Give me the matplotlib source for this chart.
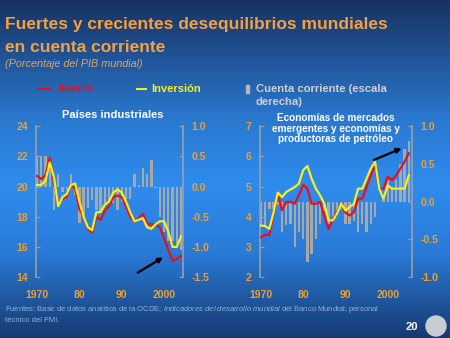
import matplotlib
matplotlib.use("Agg")
import matplotlib.pyplot as plt
import numpy as np
from matplotlib.colors import LinearSegmentedColormap
from matplotlib.patches import Ellipse

# --- data ---
years_ind = list(range(1970, 2005))
ahorro_ind = [20.7, 20.5, 20.75, 21.9, 20.3, 18.9, 19.2, 19.3, 20.1, 19.9,
              18.5, 18.0, 17.2, 16.96, 18.0, 17.8, 18.4, 18.7, 19.3, 19.4,
              19.3, 18.7, 18.0, 17.7, 17.9, 18.2, 17.5, 17.5, 17.5, 17.3,
              16.6, 15.8, 15.1, 15.2, 15.4]
inversion_ind = [20.1, 20.1, 20.4, 21.6, 20.6, 18.7, 19.3, 19.5, 20.1, 20.2,
                 19.0, 18.0, 17.3, 17.1, 18.3, 18.3, 18.8, 19.0, 19.6, 19.8,
                 19.6, 19.0, 18.3, 17.7, 17.8, 17.9, 17.3, 17.2, 17.5, 17.7,
                 17.7, 17.0, 16.0, 16.0, 16.7]
cuenta_ind = [0.51, 0.51, 0.51, 0.46, -0.39, 0.2, -0.09, -0.06, 0.2, -0.14,
              -0.61, -0.5, -0.36, -0.23, -0.39, -0.42, -0.28, -0.23, -0.28, -0.39,
              -0.25, -0.2, -0.2, 0.2, 0.02, 0.3, 0.2, 0.44, -0.02, -0.5,
              -0.75, -0.9, -0.9, -0.95, -1.05]

years_eme = list(range(1970, 2006))
ahorro_eme = [3.32, 3.4, 3.4, 4.1, 4.76, 4.21, 4.49, 4.49, 4.43, 4.71,
              5.06, 4.93, 4.43, 4.43, 4.49, 4.04, 3.58, 3.93, 4.15, 4.43,
              4.13, 4.04, 4.15, 4.6, 4.6, 4.98, 5.37, 5.7, 4.93, 4.93,
              5.32, 5.21, 5.37, 5.59, 5.82, 6.1]
inversion_eme = [3.71, 3.69, 3.6, 4.15, 4.8, 4.65, 4.82, 4.9, 4.98, 5.1,
                 5.54, 5.68, 5.26, 4.93, 4.71, 4.43, 3.88, 3.88, 4.1, 4.43,
                 4.21, 4.32, 4.43, 4.93, 4.93, 5.26, 5.59, 5.82, 4.93, 4.6,
                 5.04, 4.93, 4.93, 4.93, 4.93, 5.37]
cuenta_eme = [-0.33, -0.33, -0.1, -0.1, -0.05, -0.4, -0.31, -0.3, -0.6, -0.4,
              -0.5, -0.8, -0.7, -0.5, -0.3, -0.12, -0.3, -0.2, -0.15, -0.1,
              -0.3, -0.3, -0.25, -0.4, -0.3, -0.4, -0.3, -0.2, 0.0, 0.05,
              0.28, 0.2, 0.28, 0.5, 0.7, 0.8]

xtick_pos = [1970, 1980, 1990, 2000]
xtick_labels = ["1970", "80", "90", "2000"]

ORANGE = "#eca030"
RED = "#e8101a"
YELLOW = "#f4f020"
BARC = "#a8a8a8"
FONT = "Liberation Sans"
W, H = 450, 338

plt.rcParams["font.family"] = [FONT, "DejaVu Sans"]
plt.rcParams["mathtext.fontset"] = "custom"
plt.rcParams["mathtext.rm"] = FONT
plt.rcParams["mathtext.it"] = FONT + ":italic"

fig = plt.figure(figsize=(4.5, 3.38), dpi=100)

# background gradient
bg = fig.add_axes([0, 0, 1, 1])
bg.set_axis_off()
cmap = LinearSegmentedColormap.from_list(
    "bg", [(0.0, "#173262"), (0.35, "#2a78cf"), (0.55, "#2e8cee"),
           (0.75, "#2a7ad6"), (1.0, "#163a72")])
grad = np.linspace(0, 1, 256).reshape(-1, 1)
bg.imshow(grad, aspect="auto", cmap=cmap, extent=[0, 1, 0, 1], origin="upper")
bg.set_xlim(0, 1)
bg.set_ylim(0, 1)


def panel(rect, years, ahorro, inversion, cuenta, ylim, yticks, rlim, rticks, xlim):
    ax = fig.add_axes(rect)
    ax2 = ax.twinx()
    ax2.bar(years, cuenta, width=0.55, color=BARC, zorder=1)
    ax2.set_ylim(*rlim)
    ax.set_zorder(ax2.get_zorder() + 1)
    ax.patch.set_visible(False)
    ax.plot(years, ahorro, color=RED, lw=1.6, zorder=3)
    ax.plot(years, inversion, color=YELLOW, lw=1.6, zorder=4)
    ax.set_ylim(*ylim)
    ax.set_xlim(*xlim)
    for a in (ax, ax2):
        for s in ("top", "bottom"):
            a.spines[s].set_visible(False)
        a.spines["left"].set_color("#9aa0a8")
        a.spines["right"].set_color("#9aa0a8")
        a.spines["left"].set_linewidth(1.2)
        a.spines["right"].set_linewidth(1.2)
    ax.spines["right"].set_visible(False)
    ax2.spines["left"].set_visible(False)
    ax.set_yticks(yticks)
    ax.set_yticklabels([f"{v:g}" for v in yticks])
    ax2.set_yticks(rticks)
    ax2.set_yticklabels([f"{v:.1f}" for v in rticks])
    ax.tick_params(axis="y", direction="in", length=3, color="#9aa0a8",
                   labelcolor=ORANGE, labelsize=7.5, pad=6)
    ax2.tick_params(axis="y", direction="in", length=3, color="#9aa0a8",
                    labelcolor=ORANGE, labelsize=7.5, pad=6)
    ax.set_xticks(xtick_pos)
    ax.set_xticklabels(xtick_labels)
    ax.tick_params(axis="x", length=0, labelcolor=ORANGE, labelsize=7.5, pad=9)
    for lab in ax.get_xticklabels() + ax.get_yticklabels() + ax2.get_yticklabels():
        lab.set_fontweight("bold")
    return ax, ax2


axL, axL2 = panel([0.080, 0.180, 0.327, 0.447], years_ind, ahorro_ind, inversion_ind,
                  cuenta_ind, (14, 24), [14, 16, 18, 20, 22, 24],
                  (-1.5, 1.0), [-1.5, -1.0, -0.5, 0.0, 0.5, 1.0], (1969.75, 2004.5))
axR, axR2 = panel([0.577, 0.180, 0.339, 0.447], years_eme, ahorro_eme, inversion_eme,
                  cuenta_eme, (2, 7), [2, 3, 4, 5, 6, 7],
                  (-1.0, 1.0), [-1.0, -0.5, 0.0, 0.5, 1.0], (1969.7, 2005.8))

# arrows
axL.annotate("", xy=(2000.3, 15.4), xytext=(1993.2, 14.2),
             arrowprops=dict(arrowstyle="-|>", color="black", lw=1.6,
                             mutation_scale=7))
axR.annotate("", xy=(2003.9, 6.3), xytext=(1996.1, 5.84),
             arrowprops=dict(arrowstyle="-|>", color="black", lw=1.6,
                             mutation_scale=7))

# panel titles
fig.text(113 / W, 1 - 115 / H, "Países industriales", color="white",
         fontsize=8, fontweight="bold", ha="center", va="center")
fig.text(336 / W, 1 - 128.5 / H,
         "Economías de mercados\nemergentes y economías y\nproductoras de petróleo",
         color="white", fontsize=7.2, fontweight="bold", ha="center", va="center",
         linespacing=1.1)

# title
fig.text(5 / W, 1 - 25 / H, "Fuertes y crecientes desequilibrios mundiales",
         color="#f5a040", fontsize=12.5, fontweight="bold", ha="left", va="center")
fig.text(5 / W, 1 - 47 / H, "en cuenta corriente",
         color="#f5a040", fontsize=12.5, fontweight="bold", ha="left", va="center")
fig.text(5 / W, 1 - 64 / H, "(Porcentaje del PIB mundial)",
         color="#d8a468", fontsize=7.8, style="italic", ha="left", va="center")

# legend
ly = 1 - 89 / H
fig.add_artist(plt.Line2D([38 / W, 51 / W], [ly, ly], color=RED, lw=1.5))
fig.text(57 / W, ly, "Ahorro", color=RED, fontsize=8,
         fontweight="bold", ha="left", va="center")
fig.add_artist(plt.Line2D([137 / W, 146 / W], [ly, ly], color=YELLOW, lw=1.5))
fig.text(151 / W, ly, "Inversión", color=YELLOW, fontsize=8,
         fontweight="bold", ha="left", va="center")
fig.add_artist(plt.Rectangle((246 / W, ly - 0.013), 3 / W, 0.026,
                             color="#b8b8b8"))
fig.text(256 / W, ly, "Cuenta corriente (escala", color="#d0d0d0", fontsize=8.1,
         fontweight="bold", ha="left", va="center")
fig.text(256 / W, 1 - 102 / H, "derecha)", color="#d0d0d0", fontsize=8.1,
         fontweight="bold", ha="left", va="center")

# footer
fig.text(5 / W, 1 - 314 / H,
         "Fuentes: Base de datos analítica de la OCDE; $\\it{Indicadores\\ del\\ desarrollo\\ mundial}$"
         " del Banco Mundial; personal\ntécnico del FMI.",
         color="#8fb0d8", fontsize=5.5, ha="left", va="center", linespacing=1.3)
fig.text(412 / W, 1 - 327 / H, "20", color="white", fontsize=8,
         fontweight="bold", ha="center", va="center")
fig.add_artist(Ellipse((436 / W, 1 - 326 / H), 20 / W, 20 / H, color="#c8ccd4",
                       transform=fig.transFigure))

fig.savefig("out.png", dpi=100)
